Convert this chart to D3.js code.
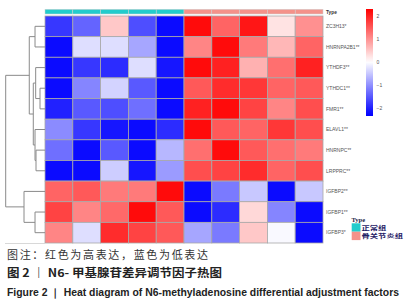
<!DOCTYPE html>
<html><head><meta charset="utf-8">
<script src="https://cdn.jsdelivr.net/npm/d3@7"></script>
<style>body{margin:0;background:#fff;}svg{display:block;}</style>
</head><body>
<svg id="c" width="412" height="300"></svg>
<script>
const genes = ["ZC3H13*","HNRNPA2B1**","YTHDF3**","YTHDC1**","FMR1**","ELAVL1**","HNRNPC**","LRPPRC**","IGFBP2**","IGFBP1**","IGFBP3*"];
const samples = ["N1","N2","N3","N4","N5","OA1","OA2","OA3","OA4","OA5"];
const sampleType = ["正常组","正常组","正常组","正常组","正常组","骨关节炎组","骨关节炎组","骨关节炎组","骨关节炎组","骨关节炎组"];
const typeNames = ["正常组","骨关节炎组"];
const typeColors = ["#22CCCC","#F4928A"];
const values = [
  [-1.8,-1.4, 0.5,-1.6,-2.2, 2.2, 1.4, 2.1, 0.25, 1.0],
  [-2.2,-0.3,-0.3,-0.8,-2.2, 1.1, 2.2, 1.2, 0.65, 1.4],
  [-2.2,-1.8,-1.9,-0.3,-2.1, 2.2, 2.0, 0.7, 1.3, 2.0],
  [-2.2,-1.1,-0.4,-1.5,-2.2, 1.5, 1.9, 1.8, 1.4, 1.5],
  [-2.0,-1.5,-1.6,-1.3,-2.2, 2.0, 2.2, 1.7, 1.1, 1.6],
  [-1.05,-1.8,-2.1,-2.2,-1.9, 2.2, 1.5, 1.4, 1.8, 1.6],
  [-1.3,-2.2,-1.5,-2.2,-0.65, 1.3, 2.2, 1.5, 1.3, 1.2],
  [-2.2,-2.2,-0.45,-2.1,-0.9, 1.6, 1.7, 1.9, 1.4, 1.6],
  [ 1.4, 1.5, 1.2, 1.2, 2.2,-2.2,-1.2,-0.5,-2.2,-0.5],
  [ 1.7, 1.1, 1.35, 2.2, 1.5,-2.2,-1.9, 0.35,-1.1,-2.2],
  [ 1.1,-0.3, 1.9, 1.7, 1.5,-0.8,-1.2, 0.5,-0.05,-2.2]
];
const legendTicks = [2,1,0,-1,-2];
// row dendrogram: [leaf index] or {h: height, c:[...]} 
const rowTree = {h:10, c:[
  {h:4.0, c:[
    {h:2.54, c:[0,1]},
    {h:2.98, c:[
      {h:2.37, c:[2,{h:1.27, c:[3,4]}]},
      {h:2.54, c:[5,{h:2.29, c:[6,7]}]}
    ]}
  ]},
  {h:5.34, c:[8,{h:2.54, c:[9,10]}]}
]};
const captions = ["图注：红色为高表达，蓝色为低表达","图 2 ｜ N6- 甲基腺苷差异调节因子热图","Figure 2 ｜ Heat diagram of N6-methyladenosine differential adjustment factors"];

const svg = d3.select("#c");
const x = d3.scaleBand().domain(d3.range(samples.length)).range([45,323]);
const y = d3.scaleBand().domain(d3.range(genes.length)).range([16,243]);
const color = d3.scaleLinear().domain([-2.3,0,2.3]).range(["#0000ff","#ffffff","#ff0000"]).clamp(true);

// cells
const cells=[];
values.forEach((row,i)=>row.forEach((v,j)=>cells.push({i,j,v})));
svg.append("g").selectAll("rect").data(cells).join("rect")
  .attr("x",d=>x(d.j)).attr("y",d=>y(d.i))
  .attr("width",x.bandwidth()).attr("height",y.bandwidth())
  .attr("fill",d=>color(d.v)).attr("stroke","#a8a8a8").attr("stroke-width",0.8);

// annotation bar
const tcol = d3.scaleOrdinal().domain(typeNames).range(typeColors);
svg.append("g").selectAll("rect").data(sampleType).join("rect")
  .attr("x",(d,j)=>x(j)).attr("y",9.3).attr("width",x.bandwidth()).attr("height",4.7)
  .attr("fill",d=>tcol(d)).attr("stroke","#d0d0d0").attr("stroke-width",0.5);
svg.append("text").attr("x",326).attr("y",13.5).attr("font-family","Liberation Sans, Arial").attr("font-size",4.8).attr("font-weight","bold").attr("fill","#333").text("Type");

// row labels
svg.append("g").selectAll("text").data(genes).join("text")
  .attr("x",326).attr("y",(d,i)=>y(i)+y.bandwidth()/2+1.8)
  .attr("font-family","Liberation Sans, Arial").attr("font-size",5).attr("fill","#555").text(d=>d);

// dendrogram
const root = d3.hierarchy(rowTree, d=> (typeof d==="object") ? d.c : null);
const hx = d3.scaleLinear().domain([0,10]).range([45,5.7]);
root.eachAfter(n=>{
  if(typeof n.data==="number"){ n.py = y(n.data)+y.bandwidth()/2; n.ph=0; }
  else { n.py = d3.mean(n.children,c=>c.py); n.ph=n.data.h; }
});
const dg = svg.append("g").attr("stroke","#8a8a8a").attr("stroke-width",1).attr("fill","none");
root.each(n=>{
  if(!n.children) return;
  const ys = n.children.map(c=>c.py);
  dg.append("line").attr("x1",hx(n.ph)).attr("x2",hx(n.ph)).attr("y1",d3.min(ys)).attr("y2",d3.max(ys));
  n.children.forEach(c=>{
    dg.append("line").attr("x1",hx(n.ph)).attr("x2",hx(c.ph)).attr("y1",c.py).attr("y2",c.py);
  });
});
svg.append("line").attr("x1",5).attr("x2",45).attr("y1",243.5).attr("y2",243.5).attr("stroke","#d8d8d8").attr("stroke-width",1);

// color legend
const ly = d3.scaleLinear().domain([-2.35,2.3]).range([116,9]);
const defs = svg.append("defs");
const grad = defs.append("linearGradient").attr("id","g1").attr("x1",0).attr("y1",1).attr("x2",0).attr("y2",0);
d3.range(0,1.0001,0.05).forEach(t=>{
  const v = -2.35 + t*4.65;
  grad.append("stop").attr("offset",t).attr("stop-color",color(v));
});
svg.append("rect").attr("x",366).attr("y",ly(2.3)).attr("width",7).attr("height",ly(-2.35)-ly(2.3)).attr("fill","url(#g1)");
svg.append("g").selectAll("text").data(legendTicks).join("text")
  .attr("x",376.5).attr("y",d=>ly(d)+1.7).attr("font-family","Liberation Sans, Arial").attr("font-size",5).attr("fill","#555")
  .text(d=>d<0?"−"+Math.abs(d):d);

// type legend
svg.append("text").attr("x",351.5).attr("y",221.5).attr("font-family","Liberation Serif, serif").attr("font-size",6.5).attr("font-weight","bold").attr("fill","#222244").text("Type");
const tl = svg.append("g").selectAll("g").data(typeNames).join("g");
tl.append("rect").attr("x",351.7).attr("y",(d,i)=>223.3+i*8.4).attr("width",8.8).attr("height",8.4).attr("fill",d=>tcol(d));
tl.append("text").attr("x",361.5).attr("y",(d,i)=>229.9+i*8.4).attr("font-family","Noto Sans CJK SC").attr("font-size",5.8).attr("font-weight","bold").attr("fill","#1f2266")
  .attr("textLength",(d)=>d.length*8.3).attr("lengthAdjust","spacingAndGlyphs").text(d=>d);

// captions
svg.append("text").attr("x",7).attr("y",259).attr("font-family","Noto Sans CJK SC").attr("font-size",11).attr("fill","#333")
  .attr("textLength",201).attr("lengthAdjust","spacing").text(captions[0]);
svg.append("text").attr("x",7).attr("y",277).attr("font-family","Noto Sans CJK SC").attr("font-size",11).attr("font-weight","bold").attr("fill","#222")
  .attr("textLength",215).attr("lengthAdjust","spacingAndGlyphs").text(captions[1]);
svg.append("text").attr("x",7).attr("y",295.5).attr("font-family","Liberation Sans Narrow, Liberation Sans, Arial").attr("font-size",10).attr("font-weight","bold").attr("fill","#222")
  .attr("textLength",392).attr("lengthAdjust","spacingAndGlyphs").text(captions[2]);
</script>
</body></html>
